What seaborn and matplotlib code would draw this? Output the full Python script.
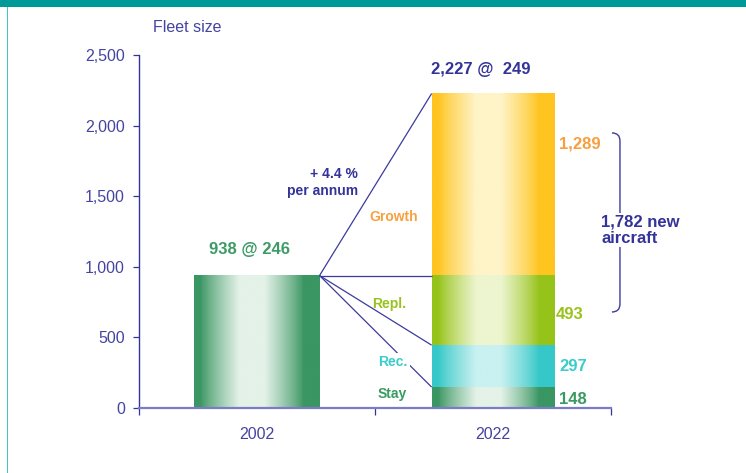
import numpy as np
import matplotlib
matplotlib.use("Agg")
import matplotlib.pyplot as plt
import matplotlib.colors as mcolors
from matplotlib.path import Path
from matplotlib.patches import PathPatch, Rectangle
from matplotlib.ticker import FuncFormatter
import seaborn as sns

# ---- data -------------------------------------------------------------
years = ["2002", "2022"]
fleet_2002 = 938
seats_2002 = 246
fleet_2022 = 2227
seats_2022 = 249
growth_pa = 4.4
segments = ["Stay", "Rec.", "Repl.", "Growth"]
segment_values = [148, 297, 493, 1289]
new_aircraft = 1782
y_ticks = [0, 500, 1000, 1500, 2000, 2500]

# ---- colours ----------------------------------------------------------
navy = "#333399"
tick_c = "#4444a2"
line_c = "#3b3b9e"
seg_edge = {"Stay": "#3a9662", "Rec.": "#36c8c8", "Repl.": "#96c31a", "Growth": "#ffc41f"}
seg_centre = {"Stay": "#e4f2e8", "Rec.": "#c9f1f1", "Repl.": "#edf5cf", "Growth": "#fef4c8"}
seg_text = {"Stay": "#3a9a62", "Rec.": "#3ccccc", "Repl.": "#99c31c", "Growth": "#f8a040"}

sns.set_theme(style="white")
plt.rcParams["font.family"] = ["Liberation Sans", "DejaVu Sans"]

fig = plt.figure(figsize=(7.46, 4.73), dpi=100)
fig.patch.set_facecolor("white")
ax = fig.add_axes([139 / 746, 1 - 408 / 473, 472 / 746, 353 / 473])

# page decoration: teal header band and thin left rule
fig.patches.append(Rectangle((0, 1 - 7 / 473), 1, 7 / 473, transform=fig.transFigure,
                             facecolor="#009999", edgecolor="none"))
fig.patches.append(Rectangle((6.5 / 746, 0), 1.3 / 746, 1 - 7 / 473, transform=fig.transFigure,
                             facecolor="#40c4c4", edgecolor="none"))


def shade_bar(patch, edge, centre, z):
    """Replace a flat bar fill with a cylinder-like horizontal gradient."""
    x0, y0 = patch.get_x(), patch.get_y()
    w, h = patch.get_width(), patch.get_height()
    t = np.linspace(0, 1, 300)
    d = np.abs(t - 0.46)
    m = np.clip((0.41 - d) / 0.31, 0, 1) ** 0.85
    e = np.array(mcolors.to_rgb(edge))
    c = np.array(mcolors.to_rgb(centre))
    img = e[None, :] * (1 - m[:, None]) + c[None, :] * m[:, None]
    ax.imshow(img[None, :, :], extent=[x0, x0 + w, y0, y0 + h], aspect="auto",
              interpolation="bilinear", zorder=z)
    patch.set_facecolor("none")
    patch.set_edgecolor("none")


# stacked 2022 bar drawn back to front from cumulative totals
tops = np.cumsum(segment_values)
layers = [("2022", tops[3], "Growth", 0.52),
          ("2022", tops[2], "Repl.", 0.52),
          ("2022", tops[1], "Rec.", 0.52),
          ("2022", tops[0], "Stay", 0.52),
          ("2002", fleet_2002, "Stay", 0.53)]
bar_patches = []
for i, (yr, val, seg, w) in enumerate(layers):
    sns.barplot(x=[yr], y=[val], order=years, width=w, color=seg_edge[seg],
                saturation=1, errorbar=None, ax=ax)
    p = ax.patches[-1]
    bar_patches.append(p)
    shade_bar(p, seg_edge[seg], seg_centre[seg], 1 + i * 0.01)

p22 = bar_patches[0]
p02 = bar_patches[-1]

# connector lines from the 2002 fleet to the 2022 segments
ox = p02.get_x() + p02.get_width()
tx = p22.get_x()
for target in [tops[3], tops[2], tops[1], tops[0]]:
    ax.plot([ox, tx], [fleet_2002, target], color=line_c, lw=0.9, zorder=2,
            solid_capstyle="butt")

# ---- axes styling -----------------------------------------------------
ax.set_xlim(-0.5, 1.5)
ax.set_ylim(0, 2500)
ax.set_xlabel("")
ax.set_ylabel("")
ax.set_facecolor("white")
for s in ["top", "right"]:
    ax.spines[s].set_visible(False)
ax.spines["left"].set_color(navy)
ax.spines["left"].set_linewidth(1.0)
ax.spines["bottom"].set_color("#7c7cc6")
ax.spines["bottom"].set_linewidth(1.6)

ax.set_yticks(y_ticks)
ax.yaxis.set_major_formatter(FuncFormatter(lambda v, p: f"{int(v):,}"))
ax.tick_params(axis="y", which="major", left=True, direction="out", length=4.5,
               width=0.9, color=navy, labelcolor=tick_c, labelsize=11.5, pad=5.5)
ax.set_xticks([0, 1])
ax.set_xticklabels(years)
ax.tick_params(axis="x", which="major", bottom=True, length=0, pad=14,
               labelsize=11.5, labelcolor=tick_c)
ax.set_xticks([-0.5, 0.5, 1.5], minor=True)
ax.tick_params(axis="x", which="minor", bottom=True, direction="out", length=5,
               width=0.9, color=navy)

fig.text(153 / 746, 1 - 27 / 473, "Fleet size", ha="left", va="center",
         fontsize=11.5, color=tick_c)

# ---- annotations ------------------------------------------------------
ax.text(-0.03, 1119, f"{fleet_2002:,} @ {seats_2002}", ha="center", va="center",
        fontsize=12, fontweight="bold", color="#3d9b66")
ax.text(0.95, 2394, f"{fleet_2022:,} @  {seats_2022}", ha="center", va="center",
        fontsize=12, fontweight="bold", color=navy)
ax.text(0.428, 1597, f"+ {growth_pa} %\nper annum", ha="right", va="center",
        multialignment="right", fontsize=10, fontweight="bold", color=navy,
        linespacing=1.2)

label_pos = {"Growth": (0.58, 1353), "Repl.": (0.56, 737),
             "Rec.": (0.576, 326), "Stay": (0.572, 99)}
for seg in segments:
    x, y = label_pos[seg]
    kw = {}
    if seg == "Rec.":
        kw["bbox"] = dict(facecolor="white", edgecolor="none", pad=1.5)
    ax.text(x, y, seg, ha="center", va="center", fontsize=10, fontweight="bold",
            color=seg_text[seg], zorder=3, **kw)

value_pos = {"Growth": (1.28, 1870), "Repl.": (1.268, 659),
             "Rec.": (1.28, 297), "Stay": (1.28, 60)}
for seg, val in zip(segments, segment_values):
    x, y = value_pos[seg]
    ax.text(x, y, f"{val:,}", ha="left", va="center", fontsize=12,
            fontweight="bold", color=seg_text[seg], zorder=3)

# brace grouping replacement + growth
bx0, bx1 = 1.504, 1.538
by_top, by_bot = 1948, 680
curl = 8 * 2500 / 353
verts = [(bx0, by_top), (bx1, by_top), (bx1, by_top - curl),
         (bx1, by_bot + curl),
         (bx1, by_bot), (bx0, by_bot)]
codes = [Path.MOVETO, Path.CURVE3, Path.CURVE3, Path.LINETO, Path.CURVE3, Path.CURVE3]
ax.add_patch(PathPatch(Path(verts, codes), facecolor="none", edgecolor=line_c,
                       lw=1.0, clip_on=False, zorder=2))
ax.text(1.458, 1261, f"{new_aircraft:,} new\naircraft", ha="left", va="center",
        fontsize=12, fontweight="bold", color=navy, linespacing=1.15, zorder=3,
        bbox=dict(facecolor="white", edgecolor="none", pad=1))

fig.savefig("out.png", dpi=100, facecolor="white")
